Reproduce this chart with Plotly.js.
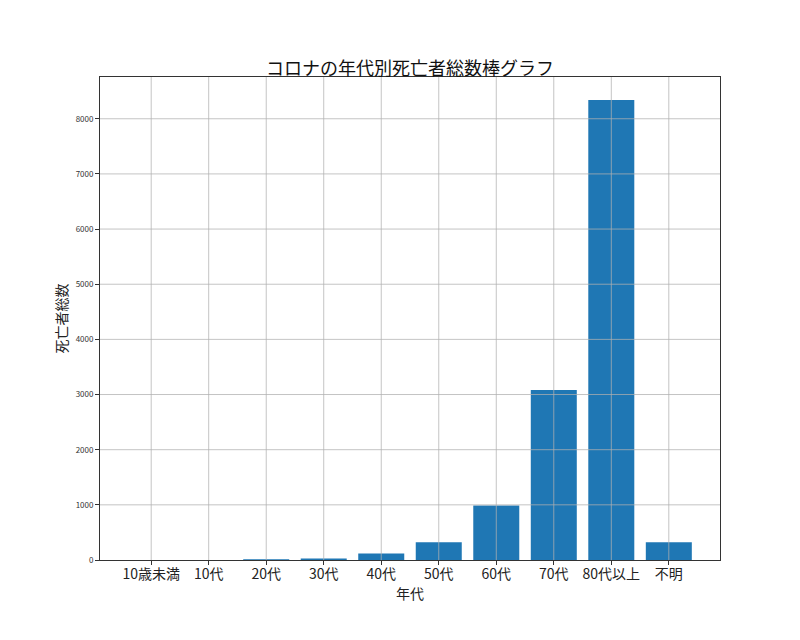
<!DOCTYPE html>
<html>
<head>
<meta charset="utf-8">
<script src="https://cdn.plot.ly/plotly-3.0.1.min.js"></script>
<style>
  body { margin: 0; background: #fff; }
  #chart { width: 800px; height: 640px; }
</style>
</head>
<body>
<div id="chart"></div>
<script>
// COVID deaths by age group
var ages = ['10歳未満', '10代', '20代', '30代', '40代', '50代', '60代', '70代', '80代以上', '不明'];
var deaths = [0, 2, 12, 28, 118, 320, 990, 3080, 8340, 322];
var yticks = [0, 1000, 2000, 3000, 4000, 5000, 6000, 7000, 8000];

var font = '"Noto Sans CJK JP", "DejaVu Sans", sans-serif';

var trace = {
  x: ages.map(function (a, i) { return i; }),
  y: deaths,
  type: 'bar',
  width: 0.8,
  marker: { color: '#1f77b4', line: { width: 0 } },
  hoverinfo: 'y',
};

// grid lines on top of the bars, like matplotlib's default here
var shapes = [];
for (let i = 0; i < ages.length; i++) {
  shapes.push({
    type: 'line', layer: 'above', xref: 'x', yref: 'paper',
    x0: i, x1: i, y0: 0, y1: 1,
    line: { color: 'rgba(176,176,176,0.75)', width: 1 },
  });
}
for (let i = 1; i < yticks.length; i++) {
  shapes.push({
    type: 'line', layer: 'above', xref: 'paper', yref: 'y',
    x0: 0, x1: 1, y0: yticks[i], y1: yticks[i],
    line: { color: 'rgba(176,176,176,0.75)', width: 1 },
  });
}

var ymax = Math.max.apply(null, deaths) * 1.05;

var layout = {
  width: 800,
  height: 640,
  margin: { t: 77, r: 80, l: 100, b: 80 },
  paper_bgcolor: '#fff',
  plot_bgcolor: '#fff',
  showlegend: false,
  font: { family: font, color: '#222' },
  title: {
    text: 'コロナの年代別死亡者総数棒グラフ',
    font: { family: font, size: 18, color: '#111' },
    x: 0.5125, xanchor: 'center',
    y: 0.893, yanchor: 'middle', yref: 'container',
  },
  xaxis: {
    range: [-0.89, ages.length - 1 + 0.89],
    tickmode: 'array',
    tickvals: ages.map(function (a, i) { return i; }),
    ticktext: ages,
    tickfont: { size: 14, color: '#222' },
    ticks: 'outside', ticklen: 4, tickcolor: '#333',
    ticklabelstandoff: -3,
    showgrid: false, zeroline: false,
    showline: true, linecolor: '#333', linewidth: 1, mirror: true,
    title: { text: '年代', font: { size: 14, color: '#222' }, standoff: 0 },
    automargin: false,
    fixedrange: true,
  },
  yaxis: {
    range: [0, ymax],
    tickmode: 'array',
    tickvals: yticks,
    tickfont: { size: 8, color: '#333' },
    ticks: 'outside', ticklen: 4, tickcolor: '#333',
    showgrid: false, zeroline: false,
    showline: true, linecolor: '#333', linewidth: 1, mirror: true,
    title: { text: '死亡者総数', font: { size: 14, color: '#222' }, standoff: 4 },
    automargin: false,
    fixedrange: true,
  },
  shapes: shapes,
  bargap: 0.2,
};

Plotly.newPlot('chart', [trace], layout, { displayModeBar: false, staticPlot: true });
</script>
</body>
</html>
